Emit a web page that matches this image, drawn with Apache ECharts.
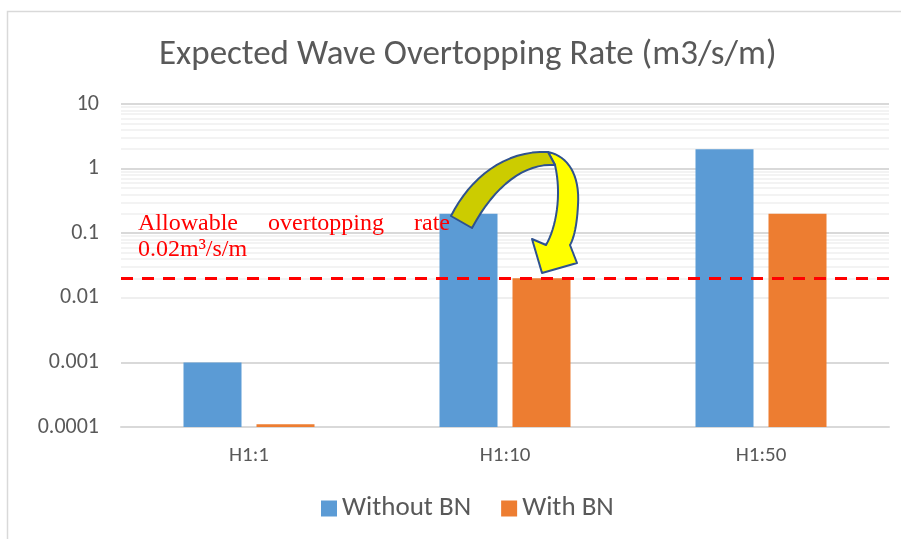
<!DOCTYPE html>
<html>
<head>
<meta charset="utf-8">
<script src="https://cdn.jsdelivr.net/npm/echarts@6/dist/echarts.min.js"></script>
<style>
html, body { margin: 0; padding: 0; background: #ffffff; }
#chart { width: 901px; height: 539px; }
</style>
</head>
<body>
<div id="chart"></div>
<script>
// Wave overtopping rates per storm case
const categories = ['H1:1', 'H1:10', 'H1:50'];
const withoutBN = [0.001, 0.2, 2];
const withBN = [0.00011, 0.02, 0.2];
const seriesNames = ['Without BN', 'With BN'];
const allowableRate = 0.02;
const yTickLabels = ['0.0001', '0.001', '0.01', '0.1', '1', '10'];
const Y_MIN = 0.0001;
const Y_MAX = 10;

const FONT = 'Carlito, Lato, sans-serif';
const NOTE_FONT = '"Liberation Serif", "Times New Roman", serif';
const TEXT_GREY = '#595959';
const BAR_WIDTH = 58;
const BAR_GAP = 15;

// Minor log gridlines at 2..9 within each decade of the axis
const minorGrid = [];
for (let e = -4; e < 1; e++) {
  for (let m = 2; m <= 9; m++) minorGrid.push({ yAxis: m * Math.pow(10, e) });
}

// Turn a list of segments (lines and cubic curves) into polygon points
function outline(start, segments) {
  const pts = [start.slice()];
  let cur = start;
  segments.forEach(function (s) {
    if (s.length === 2) {
      pts.push(s.slice());
      cur = s;
    } else {
      const p0 = cur, p1 = s[0], p2 = s[1], p3 = s[2];
      for (let i = 1; i <= 16; i++) {
        const t = i / 16, u = 1 - t;
        pts.push([
          u * u * u * p0[0] + 3 * u * u * t * p1[0] + 3 * u * t * t * p2[0] + t * t * t * p3[0],
          u * u * u * p0[1] + 3 * u * u * t * p1[1] + 3 * u * t * t * p2[1] + t * t * t * p3[1]
        ]);
      }
      cur = p3;
    }
  });
  return pts;
}

const arrowHead = outline([548, 152], [
  [[568, 156], [580, 175], [578, 205]],
  [[577, 225], [574, 238], [570, 245]],
  [577, 263], [542, 273], [532, 239], [546, 245],
  [[556, 228], [562, 195], [555, 165]]
]);
const arrowTail = outline([451, 216], [
  [[470, 178], [505, 150], [548, 152]],
  [555, 165],
  [[525, 163], [495, 185], [472, 228]]
]);

// Bars rise from the bottom of the log axis; side = -1 left bar, +1 right bar
function barRenderer(side) {
  return function (params, api) {
    const cat = api.value(0);
    const top = api.coord([cat, api.value(1)]);
    const base = api.coord([cat, Y_MIN]);
    const cx = top[0] + side * (BAR_WIDTH + BAR_GAP) / 2;
    return {
      type: 'rect',
      shape: { x: cx - BAR_WIDTH / 2, y: top[1], width: BAR_WIDTH, height: base[1] - top[1] },
      style: { fill: api.visual('color') }
    };
  };
}

function toPairs(values) {
  return values.map(function (v, i) { return [i, v]; });
}

const chart = echarts.init(document.getElementById('chart'), null, { renderer: 'canvas' });

function noteText(str, x, y, align) {
  return {
    type: 'text', z: 20, silent: true, x: x, y: y,
    style: {
      text: str, fontFamily: NOTE_FONT, fontSize: 24, fill: '#ff0000',
      align: align || 'left', verticalAlign: 'alphabetic'
    }
  };
}

chart.setOption({
  animation: false,
  backgroundColor: '#ffffff',
  title: {
    text: 'Expected Wave Overtopping Rate (m3/s/m)',
    left: 154,
    top: 33,
    textStyle: { fontFamily: FONT, fontSize: 35, fontWeight: 'normal', color: TEXT_GREY }
  },
  legend: {
    data: seriesNames,
    bottom: 12,
    left: 316,
    icon: 'rect',
    itemWidth: 16,
    itemHeight: 16,
    itemGap: 30,
    textStyle: { fontFamily: FONT, fontSize: 27, color: TEXT_GREY }
  },
  grid: { left: 121, right: 12, top: 104, bottom: 112, containLabel: false },
  xAxis: {
    type: 'category',
    data: categories,
    axisLine: { show: true, lineStyle: { color: '#d9d9d9', width: 2 } },
    axisTick: { show: false },
    axisLabel: { fontFamily: FONT, fontSize: 21, color: TEXT_GREY, margin: 18 }
  },
  yAxis: {
    type: 'log',
    logBase: 10,
    min: Y_MIN,
    max: Y_MAX,
    axisLine: { show: false },
    axisTick: { show: false },
    splitLine: { show: true, lineStyle: { color: '#d9d9d9', width: 2 } },
    axisLabel: {
      fontFamily: FONT, fontSize: 22, color: TEXT_GREY, margin: 22,
      formatter: function (v) {
        const i = Math.round(Math.log10(v)) + 4;
        return yTickLabels[i] !== undefined ? yTickLabels[i] : '';
      }
    }
  },
  series: [
    {
      name: seriesNames[0],
      type: 'custom',
      renderItem: barRenderer(-1),
      data: toPairs(withoutBN),
      encode: { x: 0, y: 1 },
      itemStyle: { color: '#5b9bd5' },
      z: 3,
      markLine: {
        silent: true,
        symbol: 'none',
        label: { show: false },
        lineStyle: { color: '#efefef', width: 1.5, type: 'solid' },
        data: minorGrid,
        z: 1
      }
    },
    {
      name: seriesNames[1],
      type: 'custom',
      renderItem: barRenderer(1),
      data: toPairs(withBN),
      encode: { x: 0, y: 1 },
      itemStyle: { color: '#ed7d31' },
      z: 3,
      markLine: {
        silent: true,
        symbol: 'none',
        label: { show: false },
        lineStyle: { color: '#ff0000', width: 3, type: [12, 9] },
        data: [{ yAxis: allowableRate }],
        z: 5
      }
    }
  ],
  graphic: [
    // chart frame
    {
      type: 'rect', silent: true, z: 0,
      shape: { x: 7.5, y: 11.5, width: 1200, height: 1200 },
      style: { fill: 'none', stroke: '#d9d9d9', lineWidth: 1.5 }
    },
    // allowable rate note
    noteText('Allowable', 138, 212, 'left'),
    noteText('overtopping', 268, 212, 'left'),
    noteText('rate', 450, 212, 'right'),
    noteText('0.02m\u00b3/s/m', 138, 238, 'left'),
    // curved arrow
    {
      type: 'polygon', z: 30, silent: true,
      shape: { points: arrowHead },
      style: { fill: '#ffff00', stroke: '#2f528f', lineWidth: 2, lineJoin: 'round' }
    },
    {
      type: 'polygon', z: 31, silent: true,
      shape: { points: arrowTail },
      style: { fill: '#cccc00', stroke: '#2f528f', lineWidth: 2, lineJoin: 'round' }
    }
  ]
});
</script>
</body>
</html>
